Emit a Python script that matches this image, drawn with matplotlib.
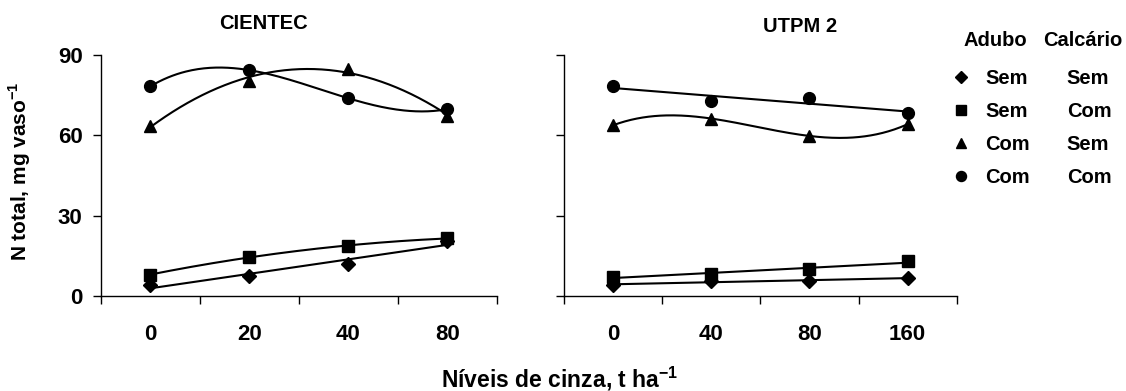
import numpy as np
import matplotlib
matplotlib.use("Agg")
import matplotlib.pyplot as plt
from matplotlib.lines import Line2D
from matplotlib.ticker import FixedLocator

plt.rcParams['font.family'] = ['Liberation Sans', 'DejaVu Sans']
plt.rcParams['font.weight'] = 'bold'
plt.rcParams['mathtext.fontset'] = 'custom'
plt.rcParams['mathtext.rm'] = 'Liberation Sans:bold'
plt.rcParams['mathtext.bf'] = 'Liberation Sans:bold'

# CIENTEC
cientec_doses = ['0', '20', '40', '80']
cientec_sem_sem = [4.0, 7.4, 12.0, 20.5]
cientec_sem_com = [7.9, 14.7, 18.6, 21.6]
cientec_com_sem = [63.5, 80.4, 84.8, 67.3]
cientec_com_com = [78.3, 84.4, 73.9, 69.8]

# UTPM 2
utpm_doses = ['0', '40', '80', '160']
utpm_sem_sem = [4.2, 5.5, 5.7, 6.7]
utpm_sem_com = [7.2, 8.2, 9.9, 13.0]
utpm_com_sem = [63.8, 66.3, 59.8, 64.2]
utpm_com_com = [78.3, 72.9, 73.9, 68.2]

adubo = ['Sem', 'Sem', 'Com', 'Com']
calcario = ['Sem', 'Com', 'Sem', 'Com']
markers = ['D', 's', '^', 'o']
msizes = [7, 8.5, 9, 8.5]

# trendline degree per series (as in the spreadsheet)
cientec_deg = [1, 2, 2, 3]
utpm_deg = [1, 1, 3, 1]

fig = plt.figure(figsize=(11.26, 3.91), dpi=100)
ax1 = fig.add_axes([0.0894, 0.243, 0.3517, 0.616])
ax2 = fig.add_axes([0.5009, 0.243, 0.3488, 0.616])


def draw_panel(ax, doses, series, degs):
    idx = np.arange(len(doses))
    xs = np.linspace(0, len(doses) - 1, 200)
    for y, m, ms, d in zip(series, markers, msizes, degs):
        coef = np.polyfit(idx, y, d)
        ax.plot(xs, np.polyval(coef, xs), color='black', lw=1.5)
        ax.plot(idx, y, linestyle='none', marker=m, ms=ms, color='black')
    ax.set_xlim(-0.5, len(doses) - 0.5)
    ax.set_ylim(0, 90)
    ax.set_yticks([0, 30, 60, 90])
    ax.set_xticks(idx)
    ax.set_xticklabels(doses)
    ax.xaxis.set_minor_locator(FixedLocator(np.arange(len(doses) + 1) - 0.5))
    ax.tick_params(axis='x', which='major', length=0, pad=20, labelsize=16)
    ax.tick_params(axis='x', which='minor', length=6, width=1, direction='out')
    ax.tick_params(axis='y', length=6, width=1, direction='out', pad=7, labelsize=16)
    for s in ['top', 'right']:
        ax.spines[s].set_visible(False)
    for s in ['left', 'bottom']:
        ax.spines[s].set_linewidth(1)


draw_panel(ax1, cientec_doses,
           [cientec_sem_sem, cientec_sem_com, cientec_com_sem, cientec_com_com], cientec_deg)
draw_panel(ax2, utpm_doses,
           [utpm_sem_sem, utpm_sem_com, utpm_com_sem, utpm_com_com], utpm_deg)
ax2.set_yticklabels([])

ax1.text(0.41, 1.13, 'CIENTEC', transform=ax1.transAxes, ha='center', va='center',
         fontsize=14.5, fontweight='bold')
ax2.text(0.6, 1.12, 'UTPM 2', transform=ax2.transAxes, ha='center', va='center',
         fontsize=14.5, fontweight='bold')

ax1.set_ylabel(r'N total, mg vaso$^{\mathbf{-1}}$', fontsize=15, fontweight='bold')
ax1.yaxis.set_label_coords(-0.171, 0.52)

fig.text(0.497, 0.031, r'Níveis de cinza, t ha$^{\mathbf{-1}}$', ha='center', va='center',
         fontsize=16.5, fontweight='bold')

# legend header
fig.text(964 / 1126, 1 - 40 / 391, 'Adubo', ha='left', va='center', fontsize=14.5, fontweight='bold')
fig.text(1043 / 1126, 1 - 40 / 391, 'Calcário', ha='left', va='center', fontsize=14.5, fontweight='bold')

# legend rows: markers with "Adubo" column, blank handles with "Calcário" column
handles = [Line2D([], [], linestyle='none', marker=m, ms=ms * 0.85, color='black')
           for m, ms in zip(markers, msizes)]
blank = [Line2D([], [], linestyle='none') for _ in calcario]
leg = fig.legend(handles + blank, adubo + calcario, ncol=2, loc='upper left',
                 bbox_to_anchor=(953 / 1126, 1 - 69 / 391), frameon=False, fontsize=14.5,
                 handlelength=0.8, handletextpad=0.79, borderpad=0,
                 columnspacing=0.25, labelspacing=0.7, borderaxespad=0)

fig.savefig('out.png', dpi=100)
